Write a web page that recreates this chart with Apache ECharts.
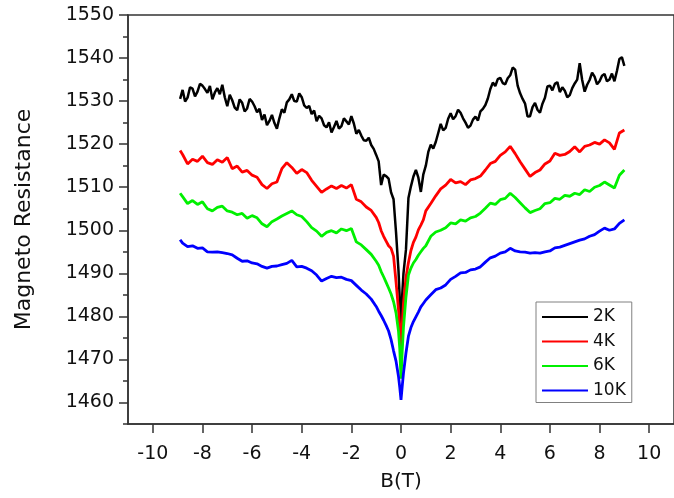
<!DOCTYPE html>
<html>
<head>
<meta charset="utf-8">
<script src="https://cdn.jsdelivr.net/npm/echarts@6/dist/echarts.min.js"></script>
<style>
  html, body { margin: 0; padding: 0; background: #fff; }
  #chart { width: 674px; height: 498px; }
</style>
</head>
<body>
<div id="chart"></div>
<script>
// Magnetic field sweep (T) for the 4K, 6K and 10K traces
const field = [
  -8.9, -8.8, -8.6, -8.4, -8.2, -8.0, -7.8, -7.6, -7.4, -7.2,
  -7.0, -6.8, -6.6, -6.4, -6.2, -6.0, -5.8, -5.6, -5.4, -5.2,
  -5.0, -4.8, -4.6, -4.4, -4.2, -4.0, -3.8, -3.6, -3.4, -3.2,
  -3.0, -2.8, -2.6, -2.4, -2.2, -2.0, -1.8, -1.6, -1.4, -1.2,
  -1.0, -0.9, -0.8, -0.7, -0.6, -0.5, -0.4, -0.3, -0.2, -0.1,
  -0.05, 0, 0.05,
  0.1, 0.2, 0.3, 0.4, 0.5, 0.6, 0.7, 0.8, 0.9, 1.0,
  1.2, 1.4, 1.6, 1.8, 2.0, 2.2, 2.4, 2.6, 2.8, 3.0,
  3.2, 3.4, 3.6, 3.8, 4.0, 4.2, 4.4, 4.6, 4.8, 5.0,
  5.2, 5.4, 5.6, 5.8, 6.0, 6.2, 6.4, 6.6, 6.8, 7.0,
  7.2, 7.4, 7.6, 7.8, 8.0, 8.2, 8.4, 8.6, 8.8, 9.0
];

// Finer field sweep (T) for the noisier 2K trace
const field2K = [
  -8.9, -8.8, -8.7, -8.6, -8.5, -8.4, -8.3, -8.2, -8.1, -8.0,
  -7.9, -7.8, -7.7, -7.6, -7.5, -7.4, -7.3, -7.2, -7.1, -7.0,
  -6.9, -6.8, -6.7, -6.6, -6.5, -6.4, -6.3, -6.2, -6.1, -6.0,
  -5.9, -5.8, -5.7, -5.6, -5.5, -5.4, -5.3, -5.2, -5.1, -5.0,
  -4.9, -4.8, -4.7, -4.6, -4.5, -4.4, -4.3, -4.2, -4.1, -4.0,
  -3.9, -3.8, -3.7, -3.6, -3.5, -3.4, -3.3, -3.2, -3.1, -3.0,
  -2.9, -2.8, -2.7, -2.6, -2.5, -2.4, -2.3, -2.2, -2.1, -2.0,
  -1.9, -1.8, -1.7, -1.6, -1.5, -1.4, -1.3, -1.2, -1.1, -1.0,
  -0.9, -0.8, -0.7, -0.6, -0.5, -0.4, -0.3, -0.2, -0.1,
  -0.05, 0, 0.05,
  0.1, 0.2, 0.3, 0.4, 0.5, 0.6, 0.7, 0.8, 0.9,
  1.0,
  1.1, 1.2, 1.3, 1.4, 1.5, 1.6, 1.7, 1.8, 1.9, 2.0,
  2.1, 2.2, 2.3, 2.4, 2.5, 2.6, 2.7, 2.8, 2.9, 3.0,
  3.1, 3.2, 3.3, 3.4, 3.5, 3.6, 3.7, 3.8, 3.9, 4.0,
  4.1, 4.2, 4.3, 4.4, 4.5, 4.6, 4.7, 4.8, 4.9, 5.0,
  5.1, 5.2, 5.3, 5.4, 5.5, 5.6, 5.7, 5.8, 5.9, 6.0,
  6.1, 6.2, 6.3, 6.4, 6.5, 6.6, 6.7, 6.8, 6.9, 7.0,
  7.1, 7.2, 7.3, 7.4, 7.5, 7.6, 7.7, 7.8, 7.9, 8.0,
  8.1, 8.2, 8.3, 8.4, 8.5, 8.6, 8.7, 8.8, 8.9, 9.0
];

// Magneto resistance at each field value
const mr2K = [
  1530.5, 1532.6, 1529.9, 1530.8, 1533.2, 1532.9, 1531.1, 1532.2, 1534.0, 1533.6,
  1532.8, 1531.9, 1533.5, 1530.4, 1532.0, 1533.0, 1531.6, 1533.8, 1530.9, 1528.8,
  1531.5, 1530.2, 1528.5, 1527.9, 1530.4, 1529.6, 1527.6, 1528.3, 1530.5, 1529.9,
  1528.8, 1527.4, 1528.2, 1525.6, 1526.9, 1524.4, 1525.4, 1526.8, 1524.9, 1523.6,
  1526.0, 1528.1, 1527.3, 1529.7, 1530.4, 1531.6, 1530.0, 1529.9, 1531.8, 1530.9,
  1529.0, 1528.4, 1528.9, 1527.0, 1527.8, 1525.3, 1526.6, 1526.0, 1524.4, 1523.9,
  1525.1, 1522.7, 1524.0, 1525.4, 1523.6, 1524.2, 1526.0, 1525.3, 1524.6, 1526.5,
  1524.8, 1522.4, 1523.3, 1522.0, 1520.9, 1520.8, 1521.5, 1519.8, 1518.9, 1517.5,
  1516.0, 1510.5, 1512.9, 1512.6, 1512.0, 1508.8, 1507.2, 1499.5, 1490.5,
  1484.0, 1475.5, 1485.0,
  1490.0, 1495.5, 1507.5, 1510.2, 1512.5, 1514.0, 1512.2, 1508.9, 1513.0,
  1515.0,
  1518.2, 1519.9, 1519.0, 1520.5, 1522.6, 1524.7, 1523.2, 1523.8, 1525.9, 1527.2,
  1525.8, 1526.5, 1528.0, 1527.3, 1526.0, 1525.0, 1523.8, 1524.3, 1525.7, 1526.4,
  1525.5, 1527.6, 1528.2, 1529.1, 1530.6, 1532.8, 1534.3, 1533.5, 1535.1, 1535.4,
  1534.2, 1533.9, 1535.3, 1536.0, 1537.8, 1537.3, 1533.6, 1531.8, 1530.5, 1529.4,
  1526.4, 1526.5, 1528.6, 1529.6, 1528.0, 1527.3, 1529.4, 1530.8, 1533.4, 1533.6,
  1532.5, 1534.0, 1534.4, 1532.1, 1533.2, 1532.4, 1530.9, 1531.4, 1533.0, 1534.1,
  1535.0, 1538.8, 1534.9, 1532.2, 1533.8, 1534.9, 1536.6, 1535.7, 1533.9, 1534.6,
  1535.9, 1536.3, 1534.6, 1535.0, 1536.4, 1534.6, 1537.0, 1539.8, 1540.2, 1538.2
];
const mr4K = [
  1518.5, 1517.6, 1515.4, 1516.5, 1516.0, 1517.2, 1515.7, 1515.3, 1516.4, 1515.8,
  1516.9, 1514.3, 1514.9, 1513.5, 1513.9, 1512.8, 1512.3, 1510.6, 1509.7, 1510.8,
  1511.2, 1514.3, 1515.7, 1514.6, 1513.2, 1514.1, 1513.4, 1511.6, 1510.2, 1508.8,
  1509.6, 1510.3, 1509.7, 1510.4, 1509.8, 1510.6, 1507.2, 1506.6, 1505.4, 1504.6,
  1503.0, 1501.8, 1499.9, 1498.6, 1497.5, 1496.4, 1495.8, 1494.0, 1488.0, 1481.5,
  1477.5, 1471.0, 1478.0,
  1483.0, 1489.0, 1492.5, 1495.3, 1497.2, 1498.4, 1500.1, 1501.2, 1502.4, 1504.5,
  1506.2, 1508.0, 1509.6, 1510.5, 1511.8, 1511.0, 1511.3, 1510.6, 1511.7, 1512.0,
  1512.6, 1514.0, 1515.5, 1516.0, 1517.4, 1518.2, 1519.5, 1517.8, 1515.9, 1514.2,
  1512.5, 1513.4, 1514.0, 1515.4, 1516.1, 1517.9, 1517.4, 1517.6, 1518.3, 1519.4,
  1518.2, 1519.5, 1519.8, 1520.4, 1520.0, 1521.0, 1520.3, 1518.8, 1522.6, 1523.3
];
const mr6K = [
  1508.6, 1507.8, 1506.2, 1506.9, 1506.0, 1506.6, 1505.0, 1504.5, 1505.3, 1505.6,
  1504.5, 1504.2, 1503.6, 1503.9, 1502.8, 1503.4, 1502.9, 1501.5, 1500.8, 1502.0,
  1502.6, 1503.3, 1503.9, 1504.5, 1503.6, 1503.2, 1502.0, 1500.6, 1499.8, 1498.6,
  1499.5, 1499.9, 1499.4, 1500.3, 1499.9, 1500.4, 1497.3, 1496.6, 1495.5, 1494.4,
  1492.8, 1491.9, 1490.4, 1489.2, 1487.9, 1486.6, 1485.2, 1483.4, 1480.8, 1476.5,
  1472.5, 1465.5, 1472.0,
  1477.5, 1484.5, 1489.6, 1491.2, 1492.4, 1493.2, 1494.2, 1495.0, 1495.8, 1496.4,
  1498.6, 1499.6, 1500.0, 1500.6, 1501.7, 1501.5, 1502.4, 1502.1, 1502.9, 1503.2,
  1504.0, 1505.1, 1506.3, 1506.0, 1507.1, 1507.4, 1508.6, 1507.6, 1506.4, 1505.2,
  1504.1, 1504.6, 1505.0, 1506.2, 1506.4, 1507.4, 1507.2, 1508.1, 1507.9, 1508.6,
  1508.3, 1509.4, 1509.0, 1510.0, 1510.4, 1511.2, 1510.5, 1509.8, 1512.8, 1514.0
];
const mr10K = [
  1497.8, 1497.0, 1496.2, 1496.4, 1495.8, 1495.9, 1495.0, 1494.9, 1495.0, 1494.8,
  1494.6, 1494.3, 1493.5, 1492.8, 1492.9, 1492.4, 1492.2, 1491.6, 1491.2, 1491.6,
  1491.7, 1492.0, 1492.3, 1493.0, 1491.5, 1491.6, 1491.2, 1490.6, 1489.6, 1488.2,
  1488.8, 1489.3, 1489.0, 1489.1, 1488.6, 1488.3, 1487.2, 1486.1, 1485.2, 1484.0,
  1482.3, 1481.2, 1480.2, 1479.1, 1477.9, 1476.6, 1474.6, 1472.0, 1469.6, 1466.0,
  1463.5, 1460.6, 1463.8,
  1466.8, 1471.5, 1475.4, 1477.4, 1478.8, 1479.9, 1481.0, 1482.2, 1483.0, 1483.8,
  1485.0, 1486.2, 1486.6, 1487.3, 1488.6, 1489.3, 1490.1, 1490.2, 1490.8, 1491.0,
  1491.5, 1492.6, 1493.6, 1494.0, 1494.7, 1495.0, 1495.8, 1495.2, 1495.0, 1494.9,
  1494.7, 1494.8, 1494.7, 1495.0, 1495.2, 1495.9, 1496.1, 1496.5, 1496.9, 1497.3,
  1497.7, 1498.0, 1498.6, 1499.0, 1499.8, 1500.5, 1500.0, 1500.3, 1501.6, 1502.4
];

const seriesNames = ['2K', '4K', '6K', '10K'];
const seriesColors = ['#000000', '#ff0000', '#00f000', '#0000ff'];
const seriesFields = [field2K, field, field, field];
const seriesValues = [mr2K, mr4K, mr6K, mr10K];

// Axis tick labels
const xTicks = [-10, -8, -6, -4, -2, 0, 2, 4, 6, 8, 10];
const yTicks = [1460, 1470, 1480, 1490, 1500, 1510, 1520, 1530, 1540, 1550];

const FONT = 'DejaVu Sans';
const AXIS_COLOR = '#333333';
const plain = v => String(v);

const chart = echarts.init(document.getElementById('chart'), null, { renderer: 'canvas' });

const option = {
  backgroundColor: '#ffffff',
  animation: false,
  grid: {
    left: 128, top: 15, right: -8, bottom: 74,
    show: true, borderColor: AXIS_COLOR, borderWidth: 1.5, backgroundColor: 'transparent'
  },
  legend: {
    orient: 'vertical',
    left: 536, top: 302,
    padding: [5, 6, 2, 6],
    icon: 'rect',
    itemWidth: 46, itemHeight: 2, itemGap: 4.5,
    borderColor: '#808080', borderWidth: 1,
    textStyle: { fontFamily: FONT, fontSize: 17, color: '#111', lineHeight: 20 },
    data: seriesNames
  },
  xAxis: {
    type: 'value', min: -11, max: 11, interval: 1,
    name: 'B(T)', nameLocation: 'middle', nameGap: 48,
    nameTextStyle: { fontFamily: FONT, fontSize: 20, color: '#111' },
    axisLine: { show: true, onZero: false, lineStyle: { color: AXIS_COLOR, width: 1.5 } },
    axisTick: { show: true, length: 9, inside: false, customValues: xTicks,
      lineStyle: { color: AXIS_COLOR, width: 1.5 } },
    axisLabel: { customValues: xTicks, formatter: plain, margin: 21,
      fontFamily: FONT, fontSize: 19, color: '#111' },
    splitLine: { show: false }
  },
  yAxis: [
    {
      type: 'value', min: 1455, max: 1550, interval: 5,
      name: 'Magneto Resistance', nameLocation: 'middle', nameGap: 93, nameRotate: 90,
      nameTextStyle: { fontFamily: FONT, fontSize: 22, color: '#111' },
      axisLine: { show: true, onZero: false, lineStyle: { color: AXIS_COLOR, width: 1.5 } },
      axisTick: { show: true, length: 5, inside: false, lineStyle: { color: AXIS_COLOR, width: 1.5 } },
      axisLabel: { customValues: yTicks, formatter: plain, margin: 14,
        fontFamily: FONT, fontSize: 19, color: '#111' },
      splitLine: { show: false }
    },
    {
      type: 'value', min: 1455, max: 1550, interval: 5, position: 'left',
      axisLine: { show: false, onZero: false },
      axisTick: { show: true, length: 9, inside: false, customValues: yTicks,
        lineStyle: { color: AXIS_COLOR, width: 1.5 } },
      axisLabel: { show: false },
      splitLine: { show: false }
    }
  ],
  series: seriesNames.map((name, k) => ({
    name: name,
    type: 'line',
    xAxisIndex: 0, yAxisIndex: 0,
    showSymbol: false, symbol: 'none',
    color: seriesColors[k],
    lineStyle: { color: seriesColors[k], width: k === 0 ? 2.5 : 2.8 },
    data: seriesFields[k].map((b, i) => [b, seriesValues[k][i]])
  }))
};

chart.setOption(option);
</script>
</body>
</html>
